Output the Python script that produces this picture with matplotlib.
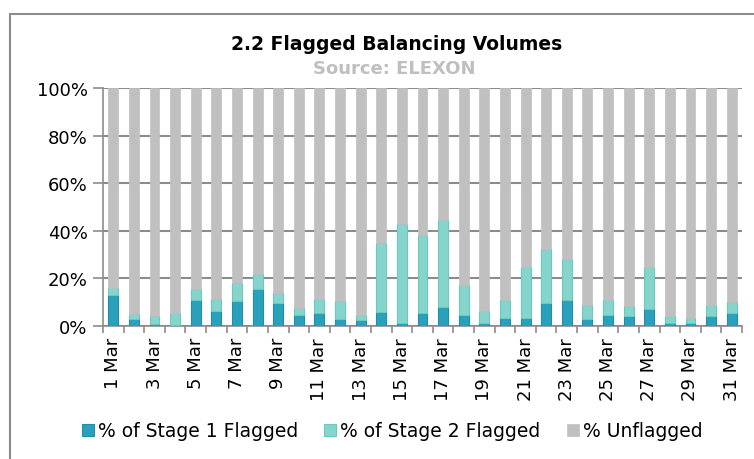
import matplotlib.pyplot as plt
import numpy as np
from matplotlib.patches import Rectangle
from matplotlib.ticker import FixedLocator, FuncFormatter

days = [f"{d} Mar" for d in range(1, 32)]

# % of volume by category
stage1 = [13.2, 2.9, 0.8, 0.3, 10.8, 6.3, 10.4, 15.4, 9.8, 4.8, 5.3, 3.1, 2.4, 5.8, 1.3, 5.5,
          8.1, 4.6, 1.3, 3.2, 3.4, 9.5, 10.8, 2.9, 4.8, 4.1, 7.0, 1.4, 1.4, 4.2, 5.6]
stage2 = [2.6, 2.3, 3.3, 5.0, 4.9, 4.9, 7.7, 6.3, 4.1, 2.8, 6.0, 7.3, 2.1, 29.1, 41.7, 32.9,
          36.6, 12.5, 5.1, 7.9, 21.6, 23.0, 17.2, 5.8, 6.3, 4.2, 17.6, 2.9, 2.0, 4.5, 4.4]
unflagged = [84.2, 94.8, 95.9, 94.7, 84.3, 88.8, 81.9, 78.3, 86.1, 92.4, 88.7, 89.6, 95.5, 65.1,
             57.0, 61.6, 55.3, 82.9, 93.6, 88.9, 75.0, 67.5, 72.0, 91.3, 88.9, 91.7, 75.4, 95.7,
             96.6, 91.3, 90.0]

C_S1 = '#2BA0BA'
C_S2 = '#86D5CD'
C_UN = '#C0C0C0'

fig = plt.figure(figsize=(7.54, 4.6), dpi=100)
ax = fig.add_axes([103 / 754, 1 - 327 / 460, (742 - 103) / 754, (327 - 89) / 460])

x = np.arange(len(days))
w = 0.48
s1 = np.array(stage1)
s2 = np.array(stage2)
ax.bar(x, s1, w, color=C_S1, edgecolor='#1D91AB', linewidth=0.8, label='% of Stage 1 Flagged', zorder=3)
ax.bar(x, s2, w, bottom=s1, color=C_S2, edgecolor='#6ACAC0', linewidth=0.8, label='% of Stage 2 Flagged', zorder=3)
ax.bar(x, unflagged, w, bottom=s1 + s2, color=C_UN, edgecolor=C_UN, linewidth=0.5, label='% Unflagged', zorder=3)

ax.set_xlim(-0.5, len(days) - 0.5)
ax.set_ylim(0, 100)
ax.set_yticks(range(0, 101, 20))
ax.yaxis.set_major_formatter(FuncFormatter(lambda v, _: f'{v:.0f}%'))
ax.grid(axis='y', color='#8C8C8C', linewidth=1.5, zorder=0)
ax.set_axisbelow(True)

ax.set_xticks(x[::2])
ax.set_xticklabels(days[::2], rotation=90)
ax.xaxis.set_minor_locator(FixedLocator(np.arange(-0.5, len(days), 1)))
ax.tick_params(axis='x', which='major', length=0, labelsize=13, pad=8)
ax.tick_params(axis='x', which='minor', length=5, width=1.2, color='#8C8C8C')
ax.tick_params(axis='y', length=7, width=1.2, color='#8C8C8C', labelsize=13, pad=4)

for s in ['top', 'right']:
    ax.spines[s].set_visible(False)
for s in ['left', 'bottom']:
    ax.spines[s].set_color('#8C8C8C')
    ax.spines[s].set_linewidth(1.2)

# chart area border
fig.patches.append(Rectangle((10 / 754, -0.1), 1.1, 1 - 15 / 460 + 0.1, transform=fig.transFigure,
                             fill=False, edgecolor='#8C8C8C', linewidth=1.5))

fig.text(397 / 754, 1 - 45 / 460, '2.2 Flagged Balancing Volumes', ha='center', va='center',
         fontsize=13.5, fontweight='bold', color='black')
fig.text(394 / 754, 1 - 69 / 460, 'Source: ELEXON', ha='center', va='center',
         fontsize=13, fontweight='bold', color='#BFBFBF')

fig.legend(loc='center', bbox_to_anchor=(392 / 754, 1 - 432 / 460), ncol=3, frameon=False,
           fontsize=13.5, handlelength=0.65, handleheight=0.65, handletextpad=0.2, columnspacing=1.4)

fig.savefig('out.png', dpi=100)
